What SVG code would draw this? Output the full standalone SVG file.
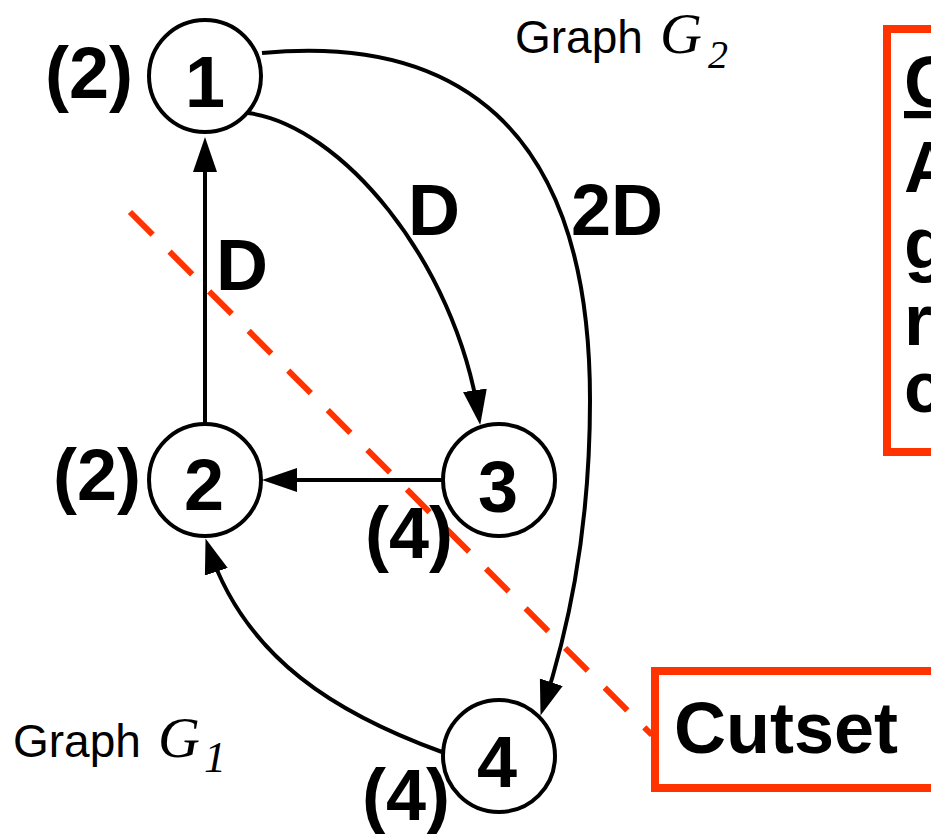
<svg xmlns="http://www.w3.org/2000/svg" width="931" height="834" viewBox="0 0 931 834">
<defs>
<style>
.node{fill:#fff;stroke:#000;stroke-width:4}
.num{font-family:"Liberation Sans",Arial,sans-serif;font-weight:bold;font-size:72px;fill:#000}
.lbl{font-family:"Liberation Sans",Arial,sans-serif;font-weight:bold;font-size:72px;fill:#000}
.edge{fill:none;stroke:#000;stroke-width:4}
.cut{fill:none;stroke:#FF3300;stroke-width:6;stroke-dasharray:32 24}
.box{fill:#fff;stroke:#FF3300;stroke-width:8}
.gl{font-family:"Liberation Sans",Arial,sans-serif;font-size:46px;fill:#000}
.gi{font-family:"Liberation Serif","Times New Roman",serif;font-style:italic;fill:#000}
</style>
<marker id="arr" markerUnits="userSpaceOnUse" markerWidth="40" markerHeight="30" viewBox="0 -13 40 26" refX="27" refY="0" orient="auto">
<path d="M0,-12 L35,0 L0,12 z" fill="#000"/>
</marker>
</defs>
<rect width="931" height="834" fill="#fff"/>

<g id="connectors">
<path class="edge" d="M205,424 L205,145" marker-end="url(#arr)"/>
<path class="edge" d="M442,480 L270,480" marker-end="url(#arr)"/>
<path class="edge" d="M248,113 C340,125 455,260 479,417" marker-end="url(#arr)"/>
<path class="edge" d="M262,53 C450,35 590,120 590,400 C590,540 565,640 543,708" marker-end="url(#arr)"/>
<path class="edge" d="M442,752 C340,715 245,660 208,546" marker-end="url(#arr)"/>
</g>

<g id="cutset-line">
<path class="cut" d="M130,212 L652,735"/>
</g>

<g id="node1">
<circle class="node" cx="205" cy="76" r="56"/>
<text class="num" x="205" y="107" text-anchor="middle">1</text>
<text class="lbl" x="45" y="98">(2)</text>
</g>
<g id="node2">
<circle class="node" cx="205" cy="480" r="56"/>
<text class="num" x="204" y="510" text-anchor="middle">2</text>
<text class="lbl" x="53" y="500">(2)</text>
</g>
<g id="node3">
<circle class="node" cx="499" cy="480" r="56"/>
<text class="num" x="498" y="512" text-anchor="middle">3</text>
<text class="lbl" x="365" y="558">(4)</text>
</g>
<g id="node4">
<circle class="node" cx="499" cy="756" r="56"/>
<text class="num" x="497" y="787" text-anchor="middle">4</text>
<text class="lbl" x="362" y="820">(4)</text>
</g>

<g id="edge-labels">
<text class="lbl" x="216" y="290">D</text>
<text class="lbl" x="408" y="235">D</text>
<text class="lbl" x="571" y="235">2D</text>
</g>

<g id="graph-labels">
<text class="gl" x="515" y="53">Graph</text>
<text class="gi" x="660" y="53" font-size="58">G</text>
<text class="gi" x="708" y="68" font-size="40">2</text>
<text class="gl" x="13" y="757">Graph</text>
<text class="gi" x="158" y="757" font-size="58">G</text>
<text class="gi" x="204" y="772" font-size="44">1</text>
</g>

<g id="cutset-box">
<rect class="box" x="655" y="671" width="320" height="117"/>
<text class="lbl" x="674" y="753">Cutset</text>
</g>

<g id="def-box">
<rect class="box" x="887" y="29" width="100" height="423"/>
<text class="lbl" x="904" y="107" text-decoration="underline">C</text>
<text class="lbl" x="904" y="192">A</text>
<text class="lbl" x="904" y="268">g</text>
<text class="lbl" x="904" y="345">r</text>
<text class="lbl" x="904" y="412">c</text>
</g>
</svg>
